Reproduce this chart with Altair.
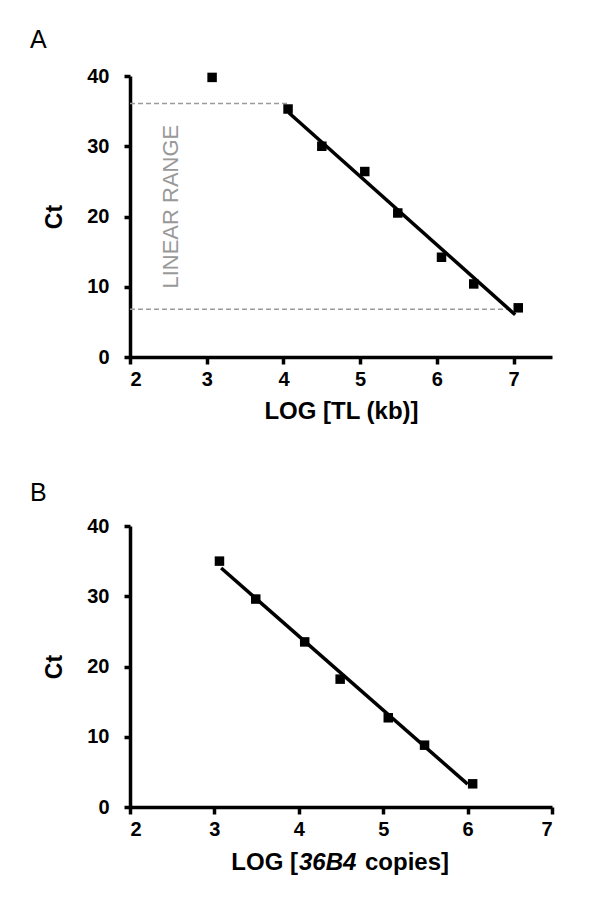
import altair as alt
import pandas as pd

# ---------------- data ----------------
# Panel A: telomere standard curve
a_x = [3.07, 4.06, 4.50, 5.06, 5.49, 6.06, 6.48, 7.06]
a_y = [39.8, 35.3, 30.0, 26.4, 20.5, 14.2, 10.4, 7.0]
a_in_range = [False, True, True, True, True, True, True, True]
a_fit_extent = [4.07, 7.02]
a_range_y = [36.1, 6.8]
a_range_x0 = [2.0, 2.0]
a_range_x1 = [4.05, 7.09]
a_range_text = ["LINEAR RANGE"]
a_range_text_x = [2.53]
a_range_text_y = [21.4]

# Panel B: 36B4 standard curve
b_x = [3.06, 3.49, 4.07, 4.49, 5.06, 5.49, 6.06]
b_y = [35.0, 29.6, 23.5, 18.2, 12.7, 8.8, 3.3]
b_fit_extent = [3.08, 6.0]
b_title_parts = ["LOG [", "36B4", "copies]"]

x_ticks = [2, 3, 4, 5, 6, 7]
y_ticks = [0, 10, 20, 30, 40]

FONT = "Liberation Sans"
W, H = 422, 281

df_a = pd.DataFrame({"x": a_x, "y": a_y, "lin": a_in_range})
df_a_lin = df_a[df_a["lin"]]
df_a_range = pd.DataFrame({"x": a_range_x0, "x2": a_range_x1, "y": a_range_y})
df_a_txt = pd.DataFrame({"x": a_range_text_x, "y": a_range_text_y, "t": a_range_text})
df_b = pd.DataFrame({"x": b_x, "y": b_y})


def x_axis(title):
    return alt.Axis(
        values=x_ticks, format="d", title=title, grid=False,
        domainColor="black", domainWidth=3.5, tickColor="black", tickWidth=3.5,
        tickSize=7, labelFont=FONT, labelFontSize=20, labelFontWeight="bold",
        labelColor="black", labelPadding=5, titleFont=FONT, titleFontSize=24,
        titleFontWeight="bold", titleColor="black", titlePadding=10,
    )


y_axis = alt.Axis(
    values=y_ticks, title="Ct", grid=False,
    domainColor="black", domainWidth=3.5, tickColor="black", tickWidth=3.5,
    tickSize=6, labelFont=FONT, labelFontSize=20, labelFontWeight="bold",
    labelColor="black", labelPadding=15, titleFont=FONT, titleFontSize=23,
    titleFontWeight="bold", titleColor="black", titlePadding=20,
)

y_scale = alt.Scale(domain=[0, 40], nice=False, zero=False)
xa_scale = alt.Scale(domain=[2, 7.5], nice=False, zero=False)
xb_scale = alt.Scale(domain=[2, 7], nice=False, zero=False)

XA = alt.X("x:Q", scale=xa_scale, axis=x_axis("LOG [TL (kb)]"))
XB = alt.X("x:Q", scale=xb_scale, axis=x_axis(None))
Y = alt.Y("y:Q", scale=y_scale, axis=y_axis)

no_frame = alt.ViewBackground(stroke="transparent", strokeWidth=0)

# ---------------- panel A ----------------
a_rules = alt.Chart(df_a_range).mark_rule(
    color="#9a9a9a", strokeWidth=1.5, strokeDash=[5, 3]
).encode(x=XA, x2="x2:Q", y=Y)

a_fit = alt.Chart(df_a_lin).transform_regression(
    "x", "y", extent=a_fit_extent
).mark_line(color="black", strokeWidth=3.5).encode(x=XA, y=Y)

a_pts = alt.Chart(df_a).mark_point(
    shape="square", filled=True, color="black", size=90, opacity=1
).encode(x=XA, y=Y)

a_text = alt.Chart(df_a_txt).mark_text(
    angle=270, align="center", baseline="middle", font=FONT,
    fontSize=22, color="#999999"
).encode(x=XA, y=Y, text="t:N")

panel_a = alt.layer(a_rules, a_fit, a_pts, a_text).properties(
    width=W, height=H, view=no_frame,
    title=alt.TitleParams(
        "A", anchor="start", frame="group", dx=-100, offset=13,
        font=FONT, fontSize=25, fontWeight="normal", color="black",
    ),
)

# ---------------- panel B ----------------
b_fit = alt.Chart(df_b).transform_regression(
    "x", "y", extent=b_fit_extent
).mark_line(color="black", strokeWidth=3.5).encode(x=XB, y=Y)

b_pts = alt.Chart(df_b).mark_point(
    shape="square", filled=True, color="black", size=90, opacity=1
).encode(x=XB, y=Y)

df_t1 = pd.DataFrame({"t": [b_title_parts[0]]})
df_t2 = pd.DataFrame({"t": [b_title_parts[1]]})
df_t3 = pd.DataFrame({"t": [b_title_parts[2]]})
title_y = H + 56
b_t1 = alt.Chart(df_t1).mark_text(
    align="right", baseline="middle", font=FONT, fontSize=24,
    fontWeight="bold", color="black"
).encode(x=alt.value(168), y=alt.value(title_y), text="t:N")
b_t2 = alt.Chart(df_t2).mark_text(
    align="left", baseline="middle", font=FONT, fontSize=24,
    fontWeight="bold", fontStyle="italic", color="black"
).encode(x=alt.value(169), y=alt.value(title_y), text="t:N")
b_t3 = alt.Chart(df_t3).mark_text(
    align="left", baseline="middle", font=FONT, fontSize=24,
    fontWeight="bold", color="black"
).encode(x=alt.value(235), y=alt.value(title_y), text="t:N")

panel_b = alt.layer(b_fit, b_pts, b_t1, b_t2, b_t3).properties(
    width=W, height=H, view=no_frame,
    title=alt.TitleParams(
        "B", anchor="start", frame="group", dx=-100, offset=10,
        font=FONT, fontSize=25, fontWeight="normal", color="black",
    ),
)

chart = alt.vconcat(panel_a, panel_b, spacing=58).properties(
    padding={"left": 22, "top": 20, "right": 10, "bottom": 10}
).configure_view(stroke="transparent", strokeWidth=0).configure(background="white")

chart.save("out.html", embed_options={"renderer": "svg", "actions": False})
